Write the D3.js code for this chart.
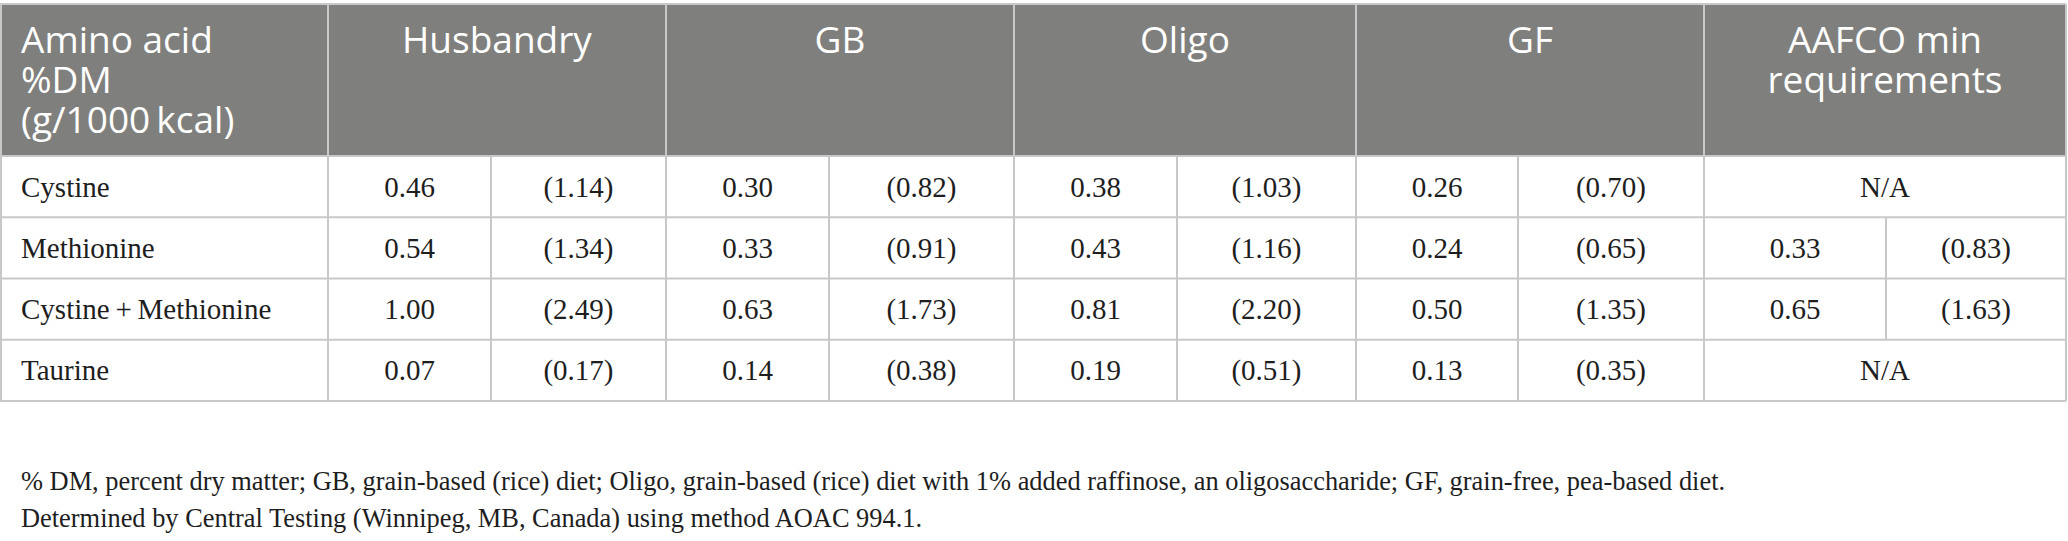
<!DOCTYPE html>
<html>
<head>
<meta charset="utf-8">
<script src="https://cdn.jsdelivr.net/npm/d3@7"></script>
<style>
  body { margin: 0; background: #fff; }
</style>
</head>
<body>
<div id="table"></div>
<script>
// table data
const aminoAcids = ["Cystine", "Methionine", "Cystine\u2009+\u2009Methionine", "Taurine"]
const dietGroups = ["Husbandry", "GB", "Oligo", "GF"]
const husbandryDM = [0.46, 0.54, 1.00, 0.07]
const husbandryKcal = [1.14, 1.34, 2.49, 0.17]
const gbDM = [0.30, 0.33, 0.63, 0.14]
const gbKcal = [0.82, 0.91, 1.73, 0.38]
const oligoDM = [0.38, 0.43, 0.81, 0.19]
const oligoKcal = [1.03, 1.16, 2.20, 0.51]
const gfDM = [0.26, 0.24, 0.50, 0.13]
const gfKcal = [0.70, 0.65, 1.35, 0.35]
const aafcoDM = [null, 0.33, 0.65, null]
const aafcoKcal = [null, 0.83, 1.63, null]
const firstHeader = ["Amino acid", "%DM", "(g/1000\u2009kcal)"]
const aafcoHeader = ["AAFCO min", "requirements"]
const footnotes = [
  "% DM, percent dry matter; GB, grain-based (rice) diet; Oligo, grain-based (rice) diet with 1% added raffinose, an oligosaccharide; GF, grain-free, pea-based diet.",
  "Determined by Central Testing (Winnipeg, MB, Canada) using method AOAC 994.1."
]

// layout
let width = 2068
let height = 541
let tableTop = 4, headBottom = 156, tableBottom = 401
// column edges: label | 5 groups of 2 sub columns
let edges = [1, 328, 491, 666, 829, 1014, 1177, 1356, 1518, 1704, 1886, 2066]
let lineColor = "#c8c8c8"
let serif = "'Liberation Serif', 'Times New Roman', serif"
let sans = "'Open Sans', sans-serif"
let fmt = d3.format(".2f")

let svg = d3.select("#table")
  .append("svg")
  .attr("width", width)
  .attr("height", height)

let y = d3.scaleBand()
  .domain(aminoAcids)
  .range([headBottom, tableBottom])

// header background
svg.append("rect")
  .attr("x", edges[0])
  .attr("y", tableTop)
  .attr("width", edges[11] - edges[0])
  .attr("height", headBottom - tableTop)
  .attr("fill", "#7f807e")

// header text (one text per line)
svg.append("g")
  .selectAll("text")
  .data(firstHeader)
  .enter()
  .append("text")
  .attr("font-family", sans)
  .attr("font-size", 37)
  .attr("fill", "#fff")
  .attr("x", 21)
  .attr("y", (d, i) => 53 + i * 40)
  .text(d => d)

let groupHeads = dietGroups.map((g, i) => ({ lines: [g], x0: edges[1 + i * 2], x1: edges[3 + i * 2] }))
groupHeads.push({ lines: aafcoHeader, x0: edges[9], x1: edges[11] })

let headLines = []
groupHeads.forEach(h => h.lines.forEach((l, i) => headLines.push({ text: l, x: (h.x0 + h.x1) / 2, i: i })))

svg.append("g")
  .selectAll("text")
  .data(headLines)
  .enter()
  .append("text")
  .attr("font-family", sans)
  .attr("font-size", 37)
  .attr("fill", "#fff")
  .attr("text-anchor", "middle")
  .attr("x", d => d.x)
  .attr("y", d => 53 + d.i * 40)
  .text(d => d.text)

// body cells
let seriesDM = [husbandryDM, gbDM, oligoDM, gfDM, aafcoDM]
let seriesKcal = [husbandryKcal, gbKcal, oligoKcal, gfKcal, aafcoKcal]
let cells = []
aminoAcids.forEach((a, r) => {
  cells.push({ row: a, x: 21, anchor: "start", text: a })
  seriesDM.forEach((s, g) => {
    let x0 = edges[1 + g * 2], xm = edges[2 + g * 2], x1 = edges[3 + g * 2]
    if (s[r] == null) {
      cells.push({ row: a, x: (x0 + x1) / 2, anchor: "middle", text: "N/A" })
    } else {
      cells.push({ row: a, x: (x0 + xm) / 2, anchor: "middle", text: fmt(s[r]) })
      cells.push({ row: a, x: (xm + x1) / 2, anchor: "middle", text: "(" + fmt(seriesKcal[g][r]) + ")" })
    }
  })
})

svg.append("g")
  .selectAll("text")
  .data(cells)
  .enter()
  .append("text")
  .attr("x", d => d.x)
  .attr("y", d => y(d.row) + y.bandwidth() / 2 + 10)
  .attr("text-anchor", d => d.anchor)
  .attr("font-family", serif)
  .attr("font-size", 29)
  .attr("fill", "#1e1e1e")
  .text(d => d.text)

// grid lines
let grid = svg.append("g")
  .attr("stroke", lineColor)
  .attr("stroke-width", 2)

// horizontal
grid.selectAll("line.h")
  .data([tableTop].concat(aminoAcids.map(a => y(a))).concat([tableBottom]))
  .enter()
  .append("line")
  .attr("x1", 0)
  .attr("x2", edges[11])
  .attr("y1", d => d)
  .attr("y2", d => d)

// group dividers, full height
grid.selectAll("line.g")
  .data([0, 1, 3, 5, 7, 9, 11])
  .enter()
  .append("line")
  .attr("x1", d => edges[d])
  .attr("x2", d => edges[d])
  .attr("y1", tableTop)
  .attr("y2", tableBottom)

// sub column dividers, per row (skip N/A rows)
let subs = []
aminoAcids.forEach((a, r) => {
  seriesDM.forEach((s, g) => {
    if (s[r] != null) subs.push({ row: a, x: edges[2 + g * 2] })
  })
})
grid.selectAll("line.s")
  .data(subs)
  .enter()
  .append("line")
  .attr("x1", d => d.x)
  .attr("x2", d => d.x)
  .attr("y1", d => y(d.row))
  .attr("y2", d => y(d.row) + y.bandwidth())

// footnotes
svg.append("g")
  .selectAll("text")
  .data(footnotes)
  .enter()
  .append("text")
  .attr("x", 21)
  .attr("y", (d, i) => 490 + i * 37)
  .attr("font-family", serif)
  .attr("font-size", 26.4)
  .attr("fill", "#1e1e1e")
  .text(d => d)
</script>
</body>
</html>
